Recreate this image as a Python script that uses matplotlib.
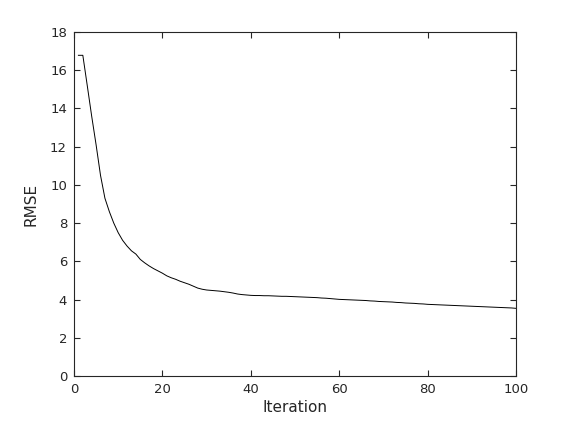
# RMSE vs iteration curve, MATLAB-like styling

import matplotlib
matplotlib.use("Agg")
import matplotlib.pyplot as plt

# iterations 1..100
iterations = list(range(1, 101))

# RMSE, one value per iteration
rmse = [16.78, 16.78, 15.2, 13.6, 12.1, 10.5, 9.3, 8.6, 8.0, 7.5,
        7.1, 6.8, 6.55, 6.38, 6.1, 5.92, 5.76, 5.62, 5.5, 5.38,
        5.24, 5.14, 5.06, 4.96, 4.88, 4.8, 4.7, 4.6, 4.54, 4.5,
        4.48, 4.46, 4.44, 4.41, 4.38, 4.34, 4.29, 4.26, 4.24, 4.22,
        4.21, 4.21, 4.20, 4.20, 4.19, 4.18, 4.17, 4.17, 4.16, 4.15,
        4.14, 4.13, 4.12, 4.11, 4.10, 4.08, 4.07, 4.05, 4.03, 4.01,
        4.00, 3.99, 3.98, 3.97, 3.96, 3.95, 3.93, 3.92, 3.90, 3.89,
        3.88, 3.87, 3.85, 3.84, 3.82, 3.81, 3.80, 3.78, 3.77, 3.75,
        3.74, 3.73, 3.72, 3.71, 3.70, 3.69, 3.68, 3.67, 3.66, 3.65,
        3.64, 3.63, 3.62, 3.61, 3.60, 3.59, 3.58, 3.57, 3.56, 3.54]

xticks = [0, 20, 40, 60, 80, 100]
yticks = [0, 2, 4, 6, 8, 10, 12, 14, 16, 18]

grey = "#262626"
plt.rcParams["font.family"] = "DejaVu Sans"

fig = plt.figure(figsize=(5.7, 4.22), dpi=100)
ax = fig.add_axes([0.1298, 0.109, 0.7755, 0.8152])

ax.plot(iterations, rmse, color="k", linewidth=0.7)

ax.set_xlim(0, 100)
ax.set_ylim(0, 18)
ax.set_xticks(xticks)
ax.set_yticks(yticks)
ax.tick_params(direction="in", top=True, right=True, length=4, width=0.8,
               labelsize=9.5, colors=grey, pad=5)
for sp in ax.spines.values():
    sp.set_color(grey)
    sp.set_linewidth(0.8)

ax.set_xlabel("Iteration", fontsize=11, color=grey, labelpad=3)
ax.set_ylabel("RMSE", fontsize=11, color=grey, labelpad=8)

fig.savefig("out.png", dpi=100)
